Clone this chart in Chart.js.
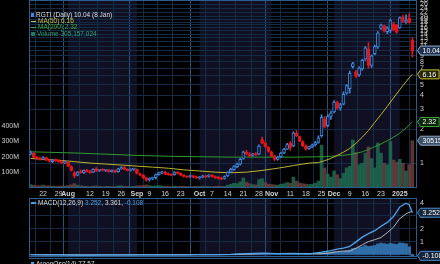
<!DOCTYPE html>
<html>
<head>
<meta charset="utf-8">
<script src="https://cdn.jsdelivr.net/npm/chart.js@4.4.1/dist/chart.umd.min.js"></script>
<style>
  body { margin: 0; width: 440px; height: 264px; overflow: hidden; background: #000; position: relative; font-family: "Liberation Sans", Arial, sans-serif; }
  canvas { position: absolute; left: 0; }
  #main { top: 0; }
  #macd { top: 198px; }
  .lg { position: absolute; font-size: 6.5px; line-height: 7px; white-space: nowrap; color: #dcdcdc; }
  .ic { display: inline-block; width: 5px; height: 1.5px; margin-right: 2px; vertical-align: middle; }
  #sep { position: absolute; left: 29px; top: 258px; width: 388px; height: 1px; background: #2a5684; }
</style>
</head>
<body>
<canvas id="main" width="440" height="200"></canvas>
<canvas id="macd" width="440" height="66"></canvas>
<div class="lg" style="left:31px;top:10.8px"><span class="ic" style="width:3px;height:4px;background:#3d86dc"></span><span id="lgPrice"></span></div>
<div class="lg" style="left:31px;top:17.2px;color:#c9c23a"><span class="ic" style="background:#c9c23a"></span><span id="lgMa50"></span></div>
<div class="lg" style="left:31px;top:23.4px;color:#3fae3f"><span class="ic" style="background:#3fae3f"></span><span id="lgMa200"></span></div>
<div class="lg" style="left:31px;top:29.8px;color:#2fa37a"><span class="ic" style="width:4px;height:4px;background:#1f7a5a"></span><span id="lgVol"></span></div>
<div class="lg" style="left:31px;top:198.5px"><span class="ic" style="background:#4a9de0"></span>MACD(12,26,9) <span id="lgMacd" style="color:#4a9de0"></span>, <span id="lgSig"></span>, <span id="lgHist" style="color:#4a9de0"></span></div>
<div id="sep"></div>
<div class="lg" style="left:31px;top:259.5px"><span class="ic" style="width:3px;height:3px;background:#4a9de0"></span>AroonOsc(14) 77.57</div>
<script>
// trading days counted from Mon 22 Jul 2024 (= 0); first candle is Tue 16 Jul
const firstDay = -4;

const opens = [1.20,1.22,1.13,1.10,
  1.09,1.12,1.06,1.03,1.07,1.05,1.03,1.01,1.02,0.93,0.82,0.78,0.84,0.82,0.86,0.84,0.83,0.89,0.86,0.87,
  0.86,0.87,0.84,0.86,0.84,0.89,0.91,0.88,0.86,0.88,0.88,0.80,0.78,0.74,0.71,0.73,0.74,0.79,0.82,0.83,
  0.80,0.79,0.79,0.83,0.81,0.78,0.76,0.76,0.77,0.75,0.74,0.75,0.77,0.76,0.78,0.76,0.74,0.73,0.73,0.77,
  0.83,0.88,0.93,0.98,1.10,1.25,1.20,1.17,1.21,1.20,1.62,1.50,1.38,1.26,1.15,1.08,1.14,1.23,1.33,1.50,
  1.42,1.85,1.72,1.55,1.42,1.34,1.40,1.45,1.53,1.75,2.45,2.15,2.60,2.85,3.45,3.10,3.35,4.20,4.60,7.20,
  6.50,6.10,6.90,8.40,10.40,7.40,9.40,10.80,15.80,16.50,14.80,15.20,17.20,16.80,16.00,19.80,18.00,19.50,12.40];
const highs = [1.28,1.24,1.15,1.13,
  1.14,1.13,1.09,1.08,1.09,1.07,1.05,1.04,1.03,0.95,0.84,0.84,0.87,0.87,0.88,0.86,0.89,0.91,0.88,0.89,
  0.88,0.88,0.87,0.87,0.90,0.93,0.94,0.89,0.89,0.90,0.89,0.82,0.79,0.75,0.74,0.75,0.80,0.83,0.85,0.85,
  0.82,0.80,0.84,0.84,0.82,0.79,0.77,0.78,0.78,0.77,0.76,0.78,0.78,0.79,0.79,0.77,0.76,0.75,0.77,0.84,
  0.90,0.95,1.00,1.10,1.28,1.30,1.24,1.22,1.24,1.45,1.70,1.55,1.40,1.28,1.17,1.15,1.25,1.35,1.50,1.56,
  1.90,1.95,1.74,1.58,1.45,1.42,1.48,1.56,1.75,2.70,2.60,2.70,2.90,3.60,3.55,3.40,4.30,5.00,6.60,7.90,
  6.70,7.20,8.40,10.90,11.80,9.20,11.20,14.80,17.30,17.00,16.40,19.00,18.00,17.20,20.00,20.80,21.00,21.40,13.00];
const lows = [1.18,1.12,1.08,1.06,
  1.07,1.05,1.02,1.01,1.03,1.02,0.99,0.99,0.93,0.85,0.74,0.77,0.81,0.81,0.83,0.81,0.82,0.84,0.84,0.85,
  0.84,0.83,0.83,0.82,0.83,0.88,0.87,0.85,0.85,0.86,0.80,0.77,0.73,0.69,0.69,0.71,0.72,0.78,0.80,0.79,
  0.78,0.77,0.78,0.80,0.77,0.75,0.74,0.74,0.74,0.73,0.72,0.74,0.74,0.75,0.75,0.73,0.72,0.71,0.72,0.76,
  0.82,0.86,0.91,0.96,1.08,1.18,1.14,1.15,1.17,1.19,1.48,1.38,1.25,1.14,1.05,1.06,1.12,1.21,1.32,1.30,
  1.40,1.72,1.55,1.40,1.30,1.32,1.37,1.42,1.50,1.70,2.05,2.10,2.45,2.80,3.00,2.95,3.30,4.10,4.20,7.00,
  5.80,5.90,6.70,8.20,7.00,7.10,9.20,10.50,15.50,14.60,14.20,14.50,15.00,14.30,15.80,17.80,17.50,17.60,8.80];
const closes = [1.25,1.13,1.10,1.08,
  1.12,1.06,1.04,1.07,1.05,1.03,1.00,1.02,0.94,0.86,0.77,0.83,0.82,0.86,0.84,0.82,0.88,0.85,0.87,0.86,
  0.87,0.84,0.86,0.83,0.89,0.91,0.88,0.86,0.88,0.89,0.81,0.78,0.74,0.70,0.73,0.74,0.79,0.82,0.83,0.80,
  0.79,0.78,0.83,0.81,0.78,0.76,0.75,0.77,0.75,0.74,0.75,0.77,0.75,0.78,0.76,0.74,0.73,0.72,0.76,0.83,
  0.88,0.93,0.98,1.08,1.25,1.20,1.16,1.21,1.19,1.42,1.52,1.40,1.27,1.16,1.08,1.13,1.23,1.33,1.46,1.38,
  1.85,1.75,1.58,1.43,1.33,1.40,1.45,1.52,1.68,2.55,2.10,2.60,2.80,3.50,3.10,3.30,4.10,4.90,6.30,7.70,
  5.90,7.00,8.20,10.60,7.40,9.00,10.90,14.40,16.90,15.00,16.00,18.60,15.40,14.60,19.60,18.20,18.70,17.80,10.04];
// millions of shares
const volumes = [22,18,15,14,
  16,14,15,12,11,12,14,13,16,20,28,18,14,12,11,10,12,13,10,9,
  10,11,9,10,14,15,12,10,9,10,14,15,16,20,15,12,14,16,13,11,
  10,9,12,10,11,12,10,9,10,11,10,12,11,10,9,11,12,11,10,18,
  24,30,28,40,65,38,28,22,20,55,60,35,25,22,20,18,24,28,35,30,
  70,45,32,28,25,22,24,30,45,277,130,90,70,110,85,60,95,130,140,310,
  230,150,160,225,265,190,130,290,225,160,150,300,180,165,185,160,110,150,305.157024];

const ma50Days = [-4,0,5,10,15,20,25,30,35,40,45,50,55,60,65,70,75,80,85,88,90,92,94,96,98,100,102,104,106,108,110,112,114,115,116,117,118];
const ma50 = [1.10,1.08,1.06,1.03,1.00,0.98,0.96,0.94,0.92,0.90,0.87,0.85,0.83,0.82,0.83,0.86,0.90,0.95,1.00,1.01,1.05,1.10,1.17,1.25,1.35,1.50,1.70,1.95,2.30,2.70,3.20,3.80,4.50,4.90,5.30,5.75,6.16];
const ma200Days = [-4,10,20,30,40,50,60,70,80,90,94,98,100,102,104,106,108,110,112,114,116,117,118];
const ma200 = [1.26,1.23,1.20,1.17,1.15,1.14,1.13,1.13,1.13,1.14,1.16,1.19,1.22,1.26,1.32,1.40,1.48,1.58,1.70,1.85,2.05,2.18,2.32];

const macdDays = [-4,0,5,10,15,20,25,30,35,40,45,50,55,60,65,70,75,80,85,89,92,94,96,98,100,102,104,106,108,110,112,114,116,117,118];
const macdLine = [-0.02,-0.03,-0.04,-0.06,-0.05,-0.04,-0.03,-0.03,-0.04,-0.03,-0.03,-0.02,-0.02,0.0,0.06,0.10,0.06,0.08,0.05,0.18,0.30,0.42,0.50,0.62,0.98,1.35,1.62,1.85,2.20,2.50,2.95,3.70,4.00,3.88,3.252];
const signalLine = [-0.02,-0.03,-0.03,-0.04,-0.05,-0.04,-0.04,-0.03,-0.03,-0.03,-0.03,-0.02,-0.02,-0.01,0.02,0.06,0.07,0.07,0.06,0.06,0.12,0.22,0.26,0.26,0.48,0.75,1.00,1.15,1.32,1.70,2.13,2.80,3.16,3.28,3.361];
// one histogram bar per candle
const macdHist = [0.01,0.0,-0.01,-0.01,0.0,
  -0.01,-0.01,0.0,0.0,-0.01,-0.01,0.0,-0.01,-0.02,-0.03,
  -0.02,-0.01,0.0,0.0,0.01,0.01,0.01,0.01,0.01,0.01,
  0.0,0.0,0.0,0.01,0.01,0.01,0.0,0.0,0.0,-0.01,
  -0.01,-0.02,-0.02,-0.02,-0.01,0.0,0.01,0.01,0.01,0.0,
  0.0,0.01,0.0,0.0,-0.01,-0.01,-0.01,-0.01,0.0,0.0,
  0.0,0.0,0.0,0.0,-0.01,-0.01,-0.01,0.0,0.01,0.01,
  0.02,0.03,0.03,0.04,0.04,0.03,0.02,0.02,0.03,0.04,
  0.03,0.01,0.0,-0.01,-0.01,0.0,0.0,0.01,0.01,0.03,
  0.03,0.02,0.0,-0.01,
  0.0,0.01,0.02,0.04,0.12,0.13,0.16,0.18,0.22,0.2,0.19,0.24,0.3,0.36,0.46,0.5,0.55,0.6,0.7,0.62,
  0.65,0.7,0.82,0.88,0.84,0.8,0.86,0.82,0.78,0.9,0.88,0.84,0.6,-0.108];

const tickDays = [0,5,8,15,20,25,30,34,39,44,50,54,59,64,69,73,79,84,89,93,98,103,108,114];
const tickLabels = ['22','29','Aug','12','19','26','Sep','9','16','23','Oct','7','14','21','28','Nov','11','18','25','Dec','9','16','23','2025'];
const monthNames = ['Aug','Sep','Oct','Nov','Dec','2025'];
const shadedMonths = [[8, 30], [50, 73], [93, 114]];
const priceTicks = [1,2,3,4,5,6,7,8,9,10,11,12,13,14,15,16,17,18,19,20,22,24,26,28];
const volumeTicks = [100,200,300,400];
const macdTicks = [1,2,3,4];

const FONT = '"Liberation Sans", Arial, sans-serif';
const UP = '#3d86dc', DOWN = '#e4141b';
const GRID = '#132b44', MONTH_GRID = '#27527e', FRAME = '#2d5d90';
Chart.defaults.font.family = FONT;
Chart.defaults.animation = false;

const days = closes.map((c, i) => firstDay + i);
const last = closes.length - 1;
const rising = closes.map((c, i) => c >= opens[i]);
const volUp = closes.map((c, i) => c >= (i ? closes[i - 1] : opens[i]));
const pts = (xs, ys) => xs.map((x, i) => ({ x, y: ys[i] }));

document.getElementById('lgPrice').textContent = 'RGTI (Daily) ' + closes[last].toFixed(2) + ' (8 Jan)';
document.getElementById('lgMa50').textContent = 'MA(50) ' + ma50[ma50.length - 1].toFixed(2);
document.getElementById('lgMa200').textContent = 'MA(200) ' + ma200[ma200.length - 1].toFixed(2);
document.getElementById('lgVol').textContent = 'Volume ' + Math.round(volumes[last] * 1e6).toLocaleString('en-US');
document.getElementById('lgMacd').textContent = macdLine[macdLine.length - 1].toFixed(3);
document.getElementById('lgSig').textContent = signalLine[signalLine.length - 1].toFixed(3);
document.getElementById('lgHist').textContent = macdHist[last].toFixed(3);

function tag(ctx, x, y, text, fill, stroke) {
  ctx.save();
  ctx.font = '7px ' + FONT;
  const w = ctx.measureText(text).width + 5;
  ctx.beginPath();
  ctx.moveTo(x + 0.5, y);
  ctx.lineTo(x + 3.5, y - 4.5);
  ctx.lineTo(x + 3.5 + w, y - 4.5);
  ctx.lineTo(x + 3.5 + w, y + 4.5);
  ctx.lineTo(x + 3.5, y + 4.5);
  ctx.closePath();
  ctx.fillStyle = fill;
  ctx.fill();
  ctx.strokeStyle = stroke;
  ctx.lineWidth = 1;
  ctx.stroke();
  ctx.fillStyle = '#fff';
  ctx.textBaseline = 'middle';
  ctx.fillText(text, x + 5.5, y + 0.5);
  ctx.restore();
}

// dark background, shaded months, frame and value tags
const panel = {
  id: 'panel',
  beforeDraw(chart) {
    const { ctx, chartArea: a, scales: { x } } = chart;
    ctx.save();
    ctx.fillStyle = '#000';
    ctx.fillRect(0, 0, chart.width, chart.height);
    ctx.fillStyle = '#101022';
    shadedMonths.forEach(([s, e]) => {
      const x0 = x.getPixelForValue(s), x1 = x.getPixelForValue(e);
      ctx.fillRect(x0, a.top, x1 - x0, a.bottom - a.top);
    });
    ctx.restore();
  },
  afterDraw(chart, args, opts) {
    const { ctx, chartArea: a } = chart;
    ctx.save();
    ctx.strokeStyle = FRAME;
    ctx.lineWidth = 1;
    ctx.strokeRect(a.left + 0.5, a.top + 0.5, a.right - a.left - 1, a.bottom - a.top - 1);
    ctx.restore();
    (opts.tags || []).forEach(t => tag(ctx, a.right, chart.scales[t.axis].getPixelForValue(t.value), t.text, t.fill, t.stroke));
  }
};

const isMonth = c => monthNames.includes(tickLabels[c.index]);
const xScale = (showLabels) => ({
  type: 'linear', min: -4.5, max: 119.5, offset: false,
  afterBuildTicks: s => { s.ticks = tickDays.map(v => ({ value: v })); },
  afterFit: s => { s.height = showLabels ? 12 : 0; s.paddingLeft = 0; s.paddingRight = 0; },
  ticks: {
    display: showLabels, autoSkip: false, maxRotation: 0, padding: 2, color: '#d4d4d4',
    font: c => ({ family: FONT, size: 7, weight: isMonth(c) ? 'bold' : 'normal' }),
    callback: (v, i) => tickLabels[i]
  },
  grid: { color: c => isMonth(c) ? MONTH_GRID : GRID, drawTicks: false },
  border: { display: false }
});

new Chart(document.getElementById('main'), {
  type: 'bar',
  data: {
    datasets: [
      { type: 'line', data: pts(ma50Days, ma50), yAxisID: 'price', borderColor: '#bdb52e', borderWidth: 1, pointRadius: 0, order: 3 },
      { type: 'line', data: pts(ma200Days, ma200), yAxisID: 'price', borderColor: '#2f9a2f', borderWidth: 1, pointRadius: 0, order: 3 },
      { data: pts(days, volumes), yAxisID: 'vol', backgroundColor: volUp.map(u => u ? 'rgba(30,112,82,0.8)' : 'rgba(110,66,66,0.8)'),
        barThickness: 3, grouped: false, order: 5 },
      { data: days.map((d, i) => ({ x: d, y: [lows[i], highs[i]] })), yAxisID: 'price',
        backgroundColor: rising.map(u => u ? UP : DOWN), barThickness: 1, grouped: false, order: 2 },
      { data: days.map((d, i) => ({ x: d, y: [opens[i], closes[i]] })), yAxisID: 'price',
        backgroundColor: rising.map(u => u ? '#0c1426' : DOWN), borderColor: rising.map(u => u ? UP : DOWN),
        borderWidth: 1, borderSkipped: false, barThickness: 3, minBarLength: 1, grouped: false, order: 1 }
    ]
  },
  options: {
    responsive: false,
    layout: { padding: 0 },
    plugins: {
      legend: { display: false }, tooltip: { enabled: false },
      panel: { tags: [
        { axis: 'price', value: closes[last], text: closes[last].toFixed(2), fill: '#1e3250', stroke: '#8fb0d0' },
        { axis: 'price', value: ma50[ma50.length - 1], text: ma50[ma50.length - 1].toFixed(2), fill: '#262608', stroke: '#c8c030' },
        { axis: 'price', value: ma200[ma200.length - 1], text: ma200[ma200.length - 1].toFixed(2), fill: '#0c260c', stroke: '#3aa03a' },
        { axis: 'vol', value: volumes[last], text: String(Math.round(volumes[last] * 1e6)), fill: '#3b4f69', stroke: '#90a8c0' }
      ] }
    },
    scales: {
      x: xScale(true),
      price: {
        type: 'logarithmic', position: 'right', min: 0.61, max: 28.3,
        afterBuildTicks: s => { s.ticks = priceTicks.map(v => ({ value: v })); },
        afterFit: s => { s.width = 23; s.paddingTop = 0; s.paddingBottom = 0; },
        ticks: { autoSkip: false, padding: 3, color: '#d0d0d0', font: { size: 7 }, callback: v => String(v) },
        grid: { color: GRID, drawTicks: false },
        border: { display: false }
      },
      vol: {
        type: 'linear', position: 'left', min: 0, max: 1213,
        afterBuildTicks: s => { s.ticks = volumeTicks.map(v => ({ value: v })); },
        afterFit: s => { s.width = 29; s.paddingTop = 0; s.paddingBottom = 0; },
        ticks: { autoSkip: false, padding: 2, color: '#d0d0d0', font: { size: 7 }, callback: v => v + 'M' },
        grid: { display: false },
        border: { display: false }
      }
    }
  },
  plugins: [panel]
});

new Chart(document.getElementById('macd'), {
  type: 'bar',
  data: {
    datasets: [
      { data: pts(days, macdHist), yAxisID: 'm', backgroundColor: '#2f6ea8', barThickness: 3, grouped: false, order: 3 },
      { type: 'line', data: pts(macdDays, signalLine), yAxisID: 'm', borderColor: '#b4b4b4', borderWidth: 1, pointRadius: 0, order: 2 },
      { type: 'line', data: pts(macdDays, macdLine), yAxisID: 'm', borderColor: '#4fa3ea', borderWidth: 1.3, pointRadius: 0, order: 1 }
    ]
  },
  options: {
    responsive: false,
    layout: { padding: { left: 29, bottom: 7 } },
    plugins: {
      legend: { display: false }, tooltip: { enabled: false },
      panel: { tags: [
        { axis: 'm', value: macdLine[macdLine.length - 1], text: macdLine[macdLine.length - 1].toFixed(3), fill: '#15263c', stroke: '#4a8fd0' },
        { axis: 'm', value: macdHist[last], text: macdHist[last].toFixed(3), fill: '#15263c', stroke: '#4a8fd0' }
      ] }
    },
    scales: {
      x: xScale(false),
      m: {
        type: 'linear', position: 'right', min: -0.2, max: 4.4,
        afterBuildTicks: s => { s.ticks = macdTicks.map(v => ({ value: v })); },
        afterFit: s => { s.width = 23; s.paddingTop = 0; s.paddingBottom = 0; },
        ticks: { autoSkip: false, padding: 3, color: '#d0d0d0', font: { size: 7 }, callback: v => String(v) },
        grid: { color: GRID, drawTicks: false },
        border: { display: false }
      }
    }
  },
  plugins: [panel]
});
</script>
</body>
</html>
